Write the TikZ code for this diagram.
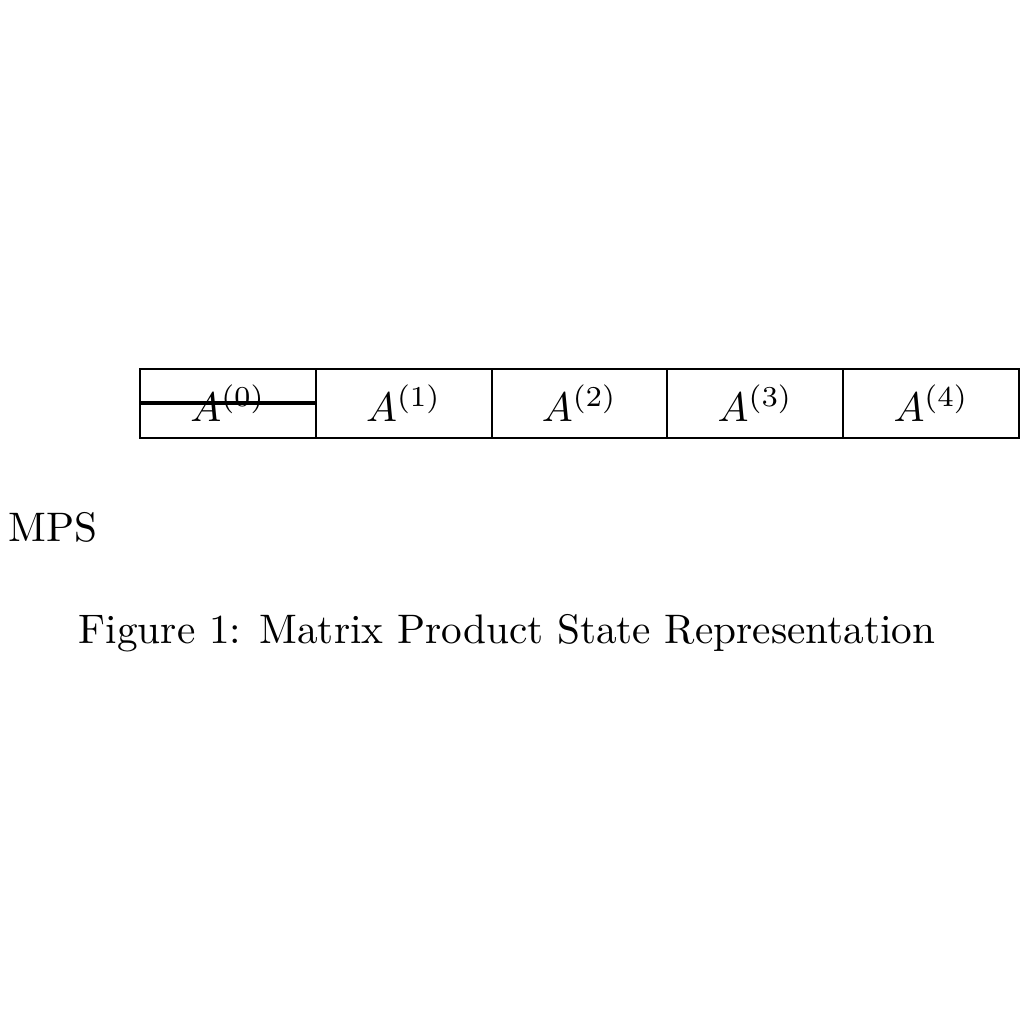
\documentclass[tikz,border=0pt]{standalone}
\begin{document}
\begin{tikzpicture}[x=1pt,y=1pt,
  cell/.style={draw, line width=0.5pt, minimum width=42.61pt, minimum height=16.73pt, inner sep=0pt, outer sep=0pt, anchor=west}]
\useasboundingbox (0,0) rectangle (248.2,248.2);
\node[cell] (c0) at (33.94,150.41) {$A^{(0)}$};
\node[cell] (c1) at (c0.east) {$A^{(1)}$};
\node[cell] (c2) at (c1.east) {$A^{(2)}$};
\node[cell] (c3) at (c2.east) {$A^{(3)}$};
\node[cell] (c4) at (c3.east) {$A^{(4)}$};
\draw[line width=1pt] ([yshift=0.12pt]c0.west) -- ([yshift=0.12pt]c0.east);
\node[anchor=west, inner sep=0pt] (mps) at (1.94,120.4) {MPS};
\node[inner sep=0pt] (cap) at (122.9,94.78) {Figure 1: Matrix Product State Representation};
\end{tikzpicture}
\end{document}
